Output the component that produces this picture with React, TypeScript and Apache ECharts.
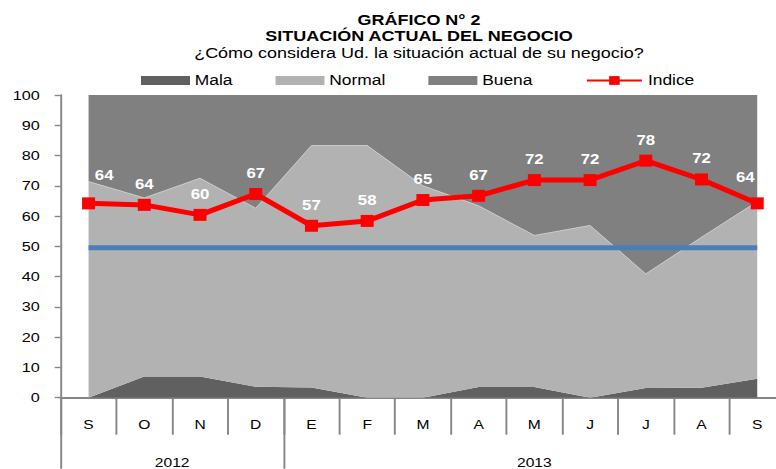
import React, { useEffect, useRef } from 'react';
import * as echarts from 'echarts';

// ---------- data ----------
const meses = ['S', 'O', 'N', 'D', 'E', 'F', 'M', 'A', 'M', 'J', 'J', 'A', 'S'];
const anios = ['2012', '2013'];
const mesesPorAnio = [4, 9];
const mala = [0, 7, 7, 3.6, 3.4, 0, 0, 3.5, 3.5, 0, 3.2, 3.3, 6.3];
const normal = [71.4, 59, 65.5, 59, 79.9, 83.3, 70, 59.9, 50.1, 56.9, 37.7, 49.7, 58.5];
const buena = [28.6, 34, 27.5, 37.4, 16.7, 16.7, 30, 36.6, 46.4, 43.1, 59.1, 47, 35.2];
const indice = [64.2, 63.7, 60.4, 67.3, 56.8, 58.4, 65.3, 66.7, 71.9, 71.9, 78.3, 72.1, 64.2];
const umbral = [49.5, 49.5, 49.5, 49.5, 49.5, 49.5, 49.5, 49.5, 49.5, 49.5, 49.5, 49.5, 49.5];
const yMin = 0;
const yMax = 100;
const yInterval = 10;

const titulo1 = 'GRÁFICO N° 2';
const titulo2 = 'SITUACIÓN ACTUAL DEL NEGOCIO';
const subtitulo = '¿Cómo considera Ud. la situación actual de su negocio?';

// ---------- layout ----------
const SX = 1.2; // horizontal stretch of the whole picture
const W = 776 / SX;
const H = 469;
const px = (x: number) => x / SX;
const FONT = '"Liberation Sans", Arial, sans-serif';
const AXIS_COLOR = '#868686';

export default function App() {
  const ref = useRef<HTMLDivElement>(null);

  useEffect(() => {
    if (!ref.current) return;
    const chart = echarts.init(ref.current, undefined, { renderer: 'svg' });

    const bounds: number[] = [0];
    mesesPorAnio.forEach((n, i) => bounds.push(bounds[i] + n));
    const centers = anios.map((_, i) => (bounds[i] + bounds[i + 1]) / 2);

    const nIdx = indice.length - 1;
    const indiceData = indice.map((v, i) => {
      if (i === 0) return { value: v, label: { offset: [13, -7] } };
      if (i === nIdx) return { value: v, label: { offset: [-10, -5] } };
      return v;
    });

    const option: any = {
      animation: false,
      backgroundColor: '#ffffff',
      textStyle: { fontFamily: FONT },
      graphic: [
        {
          type: 'text', x: px(419), y: 20, silent: true,
          style: { text: titulo1, align: 'center', verticalAlign: 'middle', fontFamily: FONT, fontWeight: 'bold', fontSize: 15, fill: '#000' },
        },
        {
          type: 'text', x: px(419), y: 36, silent: true,
          style: { text: titulo2, align: 'center', verticalAlign: 'middle', fontFamily: FONT, fontWeight: 'bold', fontSize: 15, fill: '#000' },
        },
        {
          type: 'text', x: px(419), y: 53, silent: true,
          style: { text: subtitulo, align: 'center', verticalAlign: 'middle', fontFamily: FONT, fontSize: 15, fill: '#000' },
        },
      ],
      legend: [
        {
          data: ['Mala', 'Normal', 'Buena'],
          left: px(141), top: 73, padding: 0,
          itemWidth: px(49), itemHeight: 9, itemGap: px(43),
          icon: 'rect',
          textStyle: { fontFamily: FONT, fontSize: 14.5, color: '#000', padding: [0, 0, 0, -1] },
        },
        {
          data: ['Indice'],
          left: px(585.7), top: 73, padding: 0,
          itemWidth: px(55), itemHeight: 11,
          textStyle: { fontFamily: FONT, fontSize: 14.5, color: '#000' },
        },
      ],
      grid: {
        left: px(60.7), top: 95, width: px(724.4), height: 302.7,
        containLabel: false, outerBoundsMode: 'none',
      },
      xAxis: [
        {
          type: 'category', data: meses, boundaryGap: true, position: 'bottom',
          axisLine: { show: true, lineStyle: { color: AXIS_COLOR, width: 1.8 } },
          axisTick: { show: true, interval: 0, length: 37, lineStyle: { color: AXIS_COLOR, width: 1.6 } },
          axisLabel: { interval: 0, margin: 20, fontFamily: FONT, fontSize: 13, color: '#000' },
          splitLine: { show: false },
        },
        {
          type: 'value', min: 0, max: meses.length, position: 'bottom',
          axisLine: { show: false },
          axisTick: { show: true, customValues: bounds, length: 71, lineStyle: { color: AXIS_COLOR, width: 1.6 } },
          axisLabel: {
            customValues: centers, margin: 58, fontFamily: FONT, fontSize: 13, color: '#000',
            formatter: (v: number) => { const i = centers.indexOf(v); return i >= 0 ? anios[i] : ''; },
          },
          splitLine: { show: false },
        },
      ],
      yAxis: {
        type: 'value', min: yMin, max: yMax, interval: yInterval,
        axisLine: { show: true, lineStyle: { color: AXIS_COLOR, width: 1.6 } },
        axisTick: { show: true, length: px(6), lineStyle: { color: AXIS_COLOR, width: 1.4 } },
        axisLabel: { margin: px(21), fontFamily: FONT, fontSize: 13.5, color: '#000' },
        splitLine: { show: false },
      },
      series: [
        {
          name: 'Mala', type: 'line', stack: 'total', data: mala, symbol: 'none',
          itemStyle: { color: '#606060' },
          lineStyle: { width: 0 },
          areaStyle: { color: '#606060', opacity: 1 },
          z: 1,
        },
        {
          name: 'Normal', type: 'line', stack: 'total', data: normal, symbol: 'none',
          itemStyle: { color: '#b2b2b2' },
          lineStyle: { width: 0.8, color: '#cfcfcf' },
          areaStyle: { color: '#b2b2b2', opacity: 1 },
          z: 1,
        },
        {
          name: 'Buena', type: 'line', stack: 'total', data: buena, symbol: 'none',
          itemStyle: { color: '#808080' },
          lineStyle: { width: 0 },
          areaStyle: { color: '#808080', opacity: 1 },
          z: 1,
        },
        {
          name: 'Umbral', type: 'line', data: umbral, symbol: 'none', silent: true,
          lineStyle: { color: '#4a7ebb', width: 5 },
          itemStyle: { color: '#4a7ebb' },
          z: 2,
        },
        {
          name: 'Indice', type: 'line', data: indiceData,
          symbol: 'rect', symbolSize: [px(13), 12],
          lineStyle: { color: '#ff0000', width: 5 },
          itemStyle: { color: '#ff0000' },
          label: {
            show: true, position: 'top', distance: 8,
            color: '#ffffff', fontFamily: FONT, fontWeight: 'bold', fontSize: 14,
            formatter: (p: any) => String(Math.round(p.value)),
          },
          z: 3,
        },
      ],
    };

    chart.setOption(option);
    return () => chart.dispose();
  }, []);

  return (
    <div
      ref={ref}
      style={{
        position: 'fixed', left: 0, top: 0,
        width: W, height: H,
        transform: `scaleX(${SX})`, transformOrigin: '0 0',
        background: '#fff',
      }}
    />
  );
}
